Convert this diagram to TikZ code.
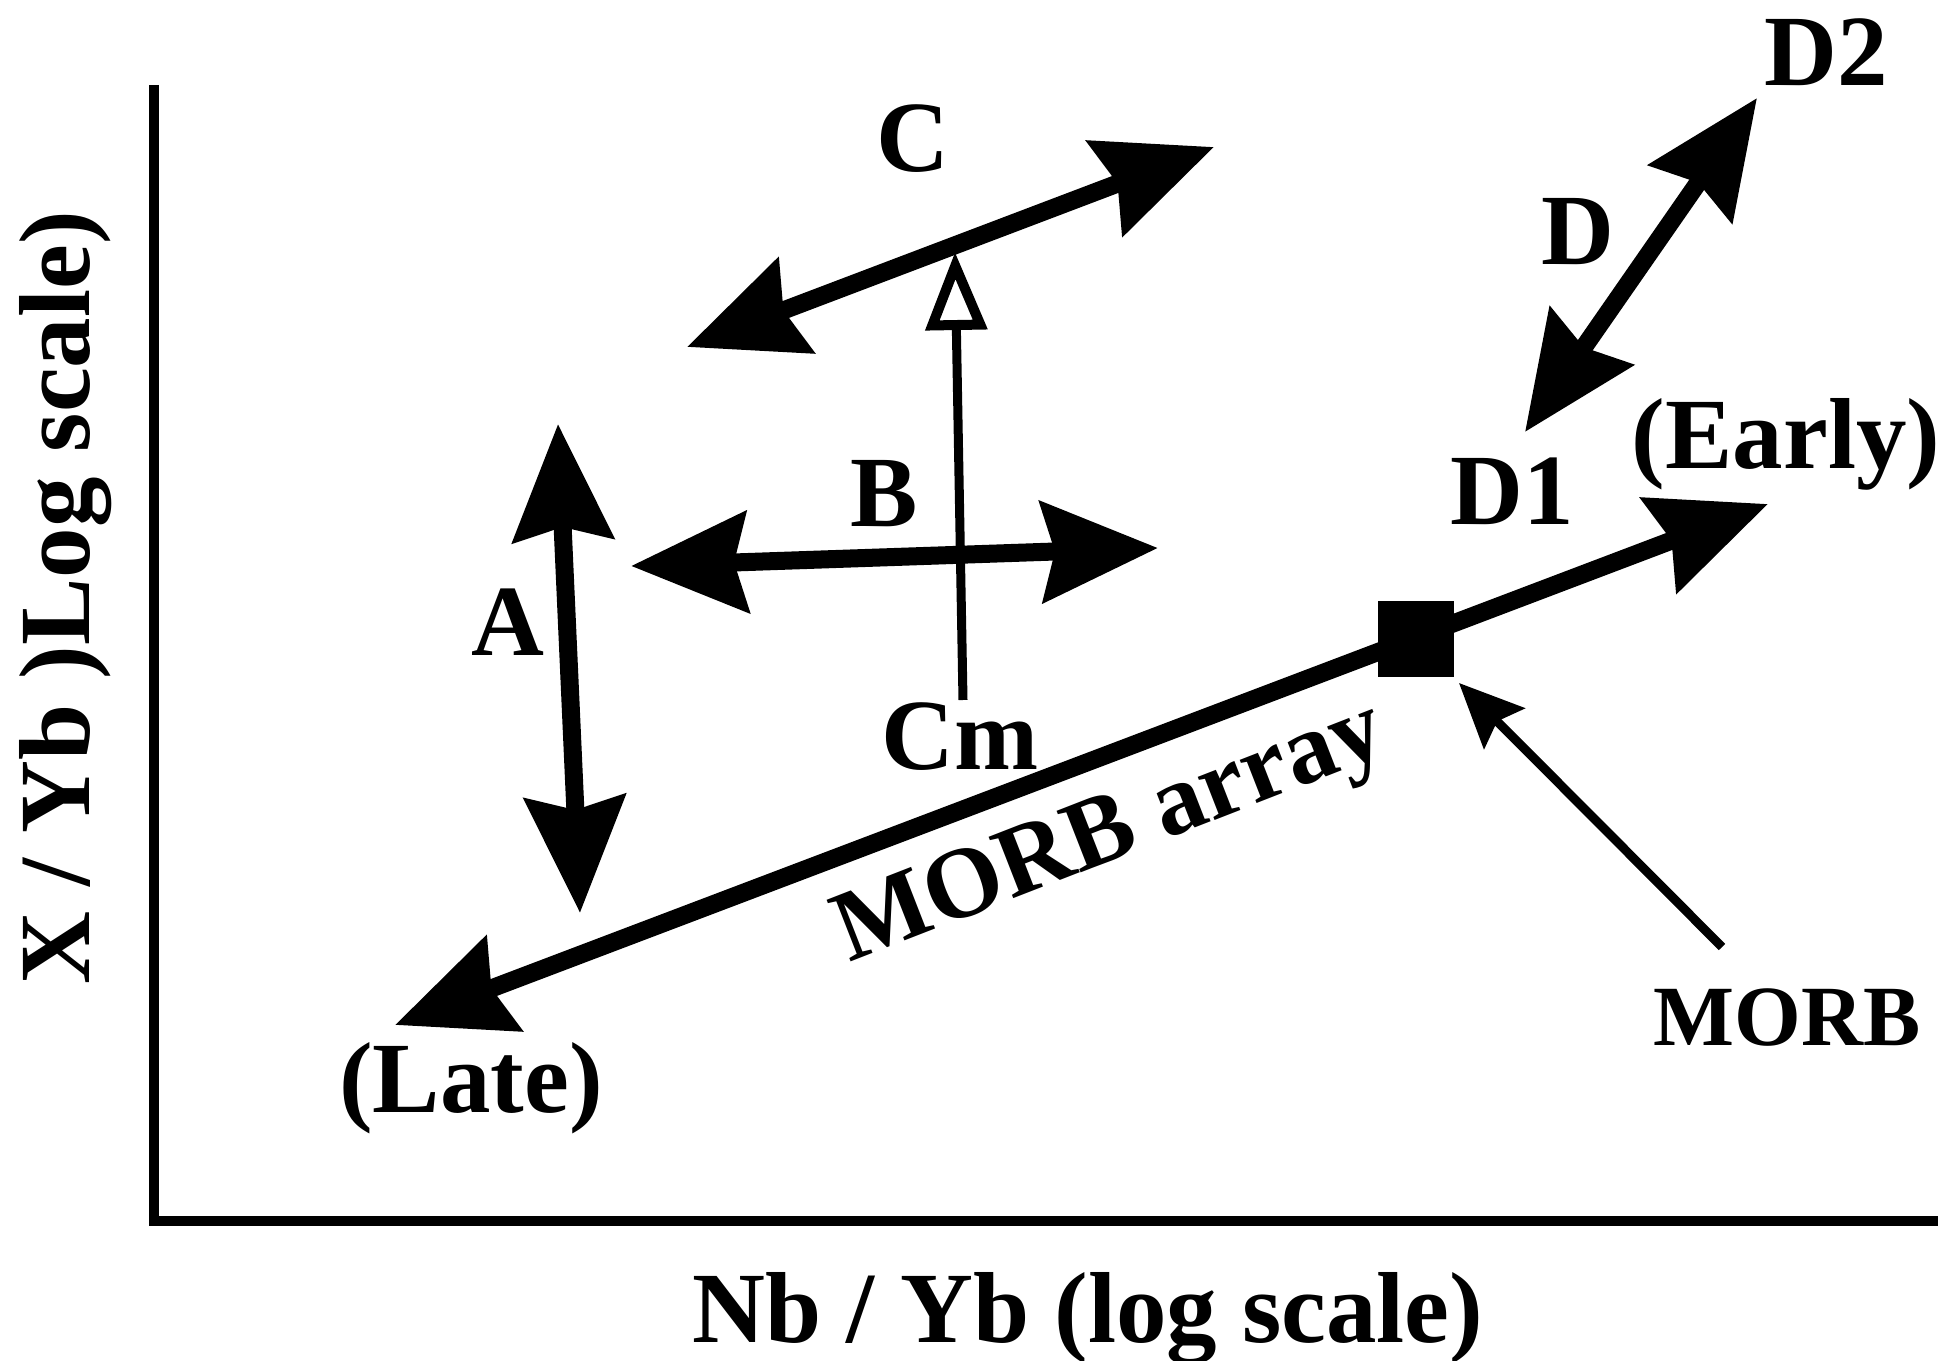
\documentclass[tikz,border=0pt]{standalone}
\usepackage{fontspec}
\setmainfont{Liberation Serif}
\usetikzlibrary{arrows.meta}
\begin{document}
\begin{tikzpicture}[x=0.01cm,y=-0.01cm,
  lbl/.style={font=\fontsize{28.7}{32}\selectfont\bfseries, inner sep=0pt, anchor=base},
  smalllbl/.style={font=\fontsize{24.4}{28}\selectfont\bfseries, inner sep=0pt, anchor=base},
  axisline/.style={line width=0.09cm, line join=miter},
  bigarr/.style={line width=0.18cm, arrows={Stealth[length=1.16cm,width=1.0cm,inset=0.13cm]-Stealth[length=1.16cm,width=1.0cm,inset=0.13cm]}},
  openarr/.style={line width=0.09cm, arrows={-Triangle[open,length=0.78cm,width=0.6cm,line width=0.1cm]}},
  thinarr/.style={line width=0.09cm, arrows={-Stealth[length=0.64cm,width=0.57cm,inset=0.1cm]}}
]
\useasboundingbox (0,0) rectangle (1938,1361);
% axes
\coordinate (ytop) at (154,85);
\coordinate (origin) at (154,1221);
\coordinate (xend) at (1938,1221);
\draw[axisline] (ytop) -- (origin) -- (xend);
\node[lbl] (xlabel) at (1088,1342) {Nb / Yb (log scale)};
\node[lbl, rotate=90] (ylabel) at (89,598) {X / Yb )Log scale)};
% A
\coordinate (Atop) at (558,424);
\coordinate (Abot) at (580,913);
\draw[bigarr] (Atop) -- (Abot);
\node[lbl] (lblA) at (508,656) {A};
% B
\coordinate (Bl) at (631,566);
\coordinate (Br) at (1158,548);
\draw[bigarr] (Bl) -- (Br);
\node[lbl] (lblB) at (884,527) {B};
% C
\coordinate (Cl) at (687,347);
\coordinate (Cr) at (1214,147);
\draw[bigarr] (Cl) -- (Cr);
\node[lbl] (lblC) at (913,172) {C};
% Cm
\coordinate (Cmbot) at (963,700);
\coordinate (Cmtip) at (955,252);
\draw[openarr] (Cmbot) -- (Cmtip);
\node[lbl] (lblCm) at (960,770) {Cm};
% D
\coordinate (D1pt) at (1525,432);
\coordinate (D2pt) at (1757,98);
\draw[bigarr] (D1pt) -- (D2pt);
\node[lbl] (lblD) at (1578,265) {D};
\node[lbl] (lblD1) at (1512,525) {D1};
\node[lbl] (lblD2) at (1826,86) {D2};
% MORB array
\coordinate (late) at (395,1025);
\coordinate (early) at (1768,504);
\draw[bigarr] (late) -- (early);
\node[fill=black, draw=none, minimum size=0.75cm, inner sep=0pt] (morbsq) at (1416,639) {};
\node[lbl, anchor=base west, rotate=21.3] (arraylbl) at (849,963) {MORB array};
\node[lbl] (lblEarly) at (1786,469) {(Early)};
\node[lbl] (lblLate) at (471,1113) {(Late)};
% MORB pointer
\coordinate (morbtail) at (1722,947);
\coordinate (morbtip) at (1459,683);
\draw[thinarr] (morbtail) -- (morbtip);
\node[smalllbl] (lblMORB) at (1787,1045) {MORB};
\end{tikzpicture}
\end{document}
